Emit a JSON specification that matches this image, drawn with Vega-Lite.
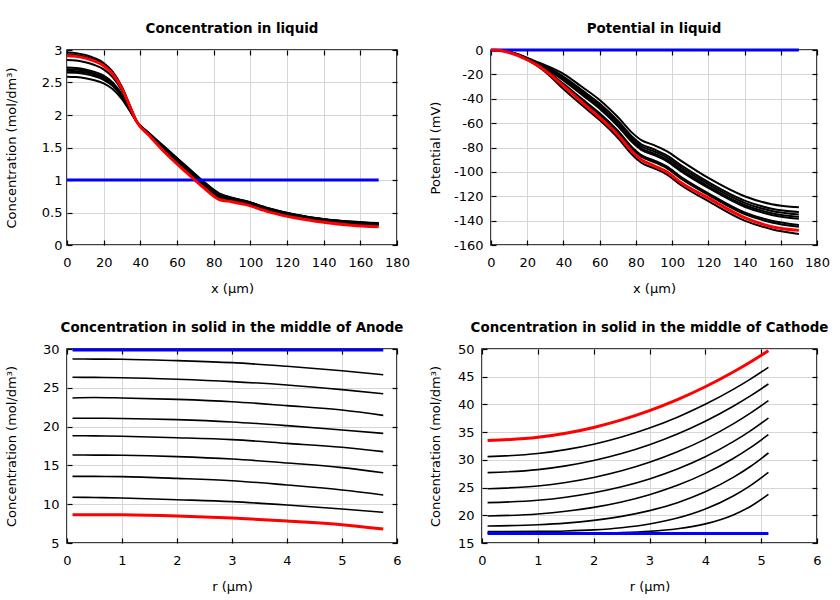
{
  "$schema": "https://vega.github.io/schema/vega-lite/v6.json",
  "padding": {"left": 4, "top": 20, "right": 4, "bottom": 0},
  "background": "#ffffff",
  "datasets": {
    "liquid": [
      {"x": 0, "b1": 2.96, "b2": 2.93, "b3": 2.845, "b4": 2.73, "b5": 2.705, "b6": 2.68, "b7": 2.655, "b8": 2.59, "blue": 1, "red": 2.91},
      {"x": 5, "b1": 2.952, "b2": 2.922, "b3": 2.837, "b4": 2.723, "b5": 2.699, "b6": 2.674, "b7": 2.649, "b8": 2.584, "blue": 1, "red": 2.902},
      {"x": 10, "b1": 2.923, "b2": 2.894, "b3": 2.812, "b4": 2.701, "b5": 2.677, "b6": 2.653, "b7": 2.629, "b8": 2.566, "blue": 1, "red": 2.875},
      {"x": 15, "b1": 2.875, "b2": 2.848, "b3": 2.769, "b4": 2.664, "b5": 2.641, "b6": 2.618, "b7": 2.595, "b8": 2.535, "blue": 1, "red": 2.829},
      {"x": 20, "b1": 2.801, "b2": 2.776, "b3": 2.703, "b4": 2.606, "b5": 2.584, "b6": 2.563, "b7": 2.542, "b8": 2.487, "blue": 1, "red": 2.758},
      {"x": 25, "b1": 2.663, "b2": 2.642, "b3": 2.58, "b4": 2.498, "b5": 2.48, "b6": 2.462, "b7": 2.444, "b8": 2.397, "blue": 1, "red": 2.627},
      {"x": 30, "b1": 2.43, "b2": 2.415, "b3": 2.373, "b4": 2.315, "b5": 2.303, "b6": 2.29, "b7": 2.278, "b8": 2.245, "blue": 1, "red": 2.405},
      {"x": 34, "b1": 2.165, "b2": 2.158, "b3": 2.136, "b4": 2.108, "b5": 2.101, "b6": 2.095, "b7": 2.089, "b8": 2.073, "blue": 1, "red": 2.153},
      {"x": 38, "b1": 1.9, "b2": 1.9, "b3": 1.9, "b4": 1.9, "b5": 1.9, "b6": 1.9, "b7": 1.9, "b8": 1.9, "blue": 1, "red": 1.9},
      {"x": 45, "b1": 1.685, "b2": 1.69, "b3": 1.695, "b4": 1.7, "b5": 1.705, "b6": 1.71, "b7": 1.712, "b8": 1.717, "blue": 1, "red": 1.68},
      {"x": 55, "b1": 1.4, "b2": 1.41, "b3": 1.42, "b4": 1.43, "b5": 1.44, "b6": 1.45, "b7": 1.455, "b8": 1.465, "blue": 1, "red": 1.38},
      {"x": 65, "b1": 1.15, "b2": 1.16, "b3": 1.17, "b4": 1.18, "b5": 1.19, "b6": 1.2, "b7": 1.205, "b8": 1.215, "blue": 1, "red": 1.12},
      {"x": 75, "b1": 0.9, "b2": 0.91, "b3": 0.92, "b4": 0.93, "b5": 0.94, "b6": 0.95, "b7": 0.955, "b8": 0.965, "blue": 1, "red": 0.87},
      {"x": 83, "b1": 0.73, "b2": 0.74, "b3": 0.75, "b4": 0.76, "b5": 0.77, "b6": 0.78, "b7": 0.785, "b8": 0.795, "blue": 1, "red": 0.7},
      {"x": 90, "b1": 0.695, "b2": 0.7, "b3": 0.705, "b4": 0.71, "b5": 0.715, "b6": 0.72, "b7": 0.722, "b8": 0.727, "blue": 1, "red": 0.665},
      {"x": 97, "b1": 0.65, "b2": 0.655, "b3": 0.66, "b4": 0.665, "b5": 0.67, "b6": 0.675, "b7": 0.677, "b8": 0.682, "blue": 1, "red": 0.625},
      {"x": 110, "b1": 0.535, "b2": 0.54, "b3": 0.545, "b4": 0.55, "b5": 0.555, "b6": 0.56, "b7": 0.562, "b8": 0.567, "blue": 1, "red": 0.51},
      {"x": 125, "b1": 0.435, "b2": 0.44, "b3": 0.445, "b4": 0.45, "b5": 0.455, "b6": 0.46, "b7": 0.462, "b8": 0.467, "blue": 1, "red": 0.415},
      {"x": 140, "b1": 0.37, "b2": 0.375, "b3": 0.38, "b4": 0.385, "b5": 0.39, "b6": 0.395, "b7": 0.397, "b8": 0.402, "blue": 1, "red": 0.35},
      {"x": 155, "b1": 0.33, "b2": 0.335, "b3": 0.34, "b4": 0.345, "b5": 0.35, "b6": 0.355, "b7": 0.357, "b8": 0.362, "blue": 1, "red": 0.305},
      {"x": 170, "b1": 0.305, "b2": 0.31, "b3": 0.315, "b4": 0.32, "b5": 0.325, "b6": 0.33, "b7": 0.332, "b8": 0.337, "blue": 1, "red": 0.28}
    ],
    "potential": [
      {"x": 0, "b1": 0, "b2": 0, "b3": 0, "b4": 0, "b5": 0, "b6": 0, "b7": 0, "b8": 0, "blue": 0, "red": 0},
      {"x": 5, "b1": -0.3, "b2": -0.32, "b3": -0.33, "b4": -0.34, "b5": -0.34, "b6": -0.37, "b7": -0.37, "b8": -0.4, "blue": 0, "red": -0.4},
      {"x": 10, "b1": -1.5, "b2": -1.59, "b3": -1.64, "b4": -1.68, "b5": -1.72, "b6": -1.83, "b7": -1.87, "b8": -2, "blue": 0, "red": -2},
      {"x": 15, "b1": -3.5, "b2": -3.68, "b3": -3.77, "b4": -3.86, "b5": -3.93, "b6": -4.16, "b7": -4.23, "b8": -4.5, "blue": 0, "red": -4.5},
      {"x": 20, "b1": -6.5, "b2": -6.77, "b3": -6.91, "b4": -7.04, "b5": -7.15, "b6": -7.49, "b7": -7.6, "b8": -8, "blue": 0, "red": -8},
      {"x": 25, "b1": -9.5, "b2": -10.04, "b3": -10.31, "b4": -10.58, "b5": -10.79, "b6": -11.48, "b7": -11.69, "b8": -12.5, "blue": 0, "red": -12},
      {"x": 30, "b1": -12.5, "b2": -13.49, "b3": -13.99, "b4": -14.48, "b5": -14.87, "b6": -16.13, "b7": -16.52, "b8": -18, "blue": 0, "red": -17},
      {"x": 40, "b1": -19.5, "b2": -21.75, "b3": -22.88, "b4": -24, "b5": -24.88, "b6": -27.75, "b7": -28.63, "b8": -32, "blue": 0, "red": -29.5},
      {"x": 50, "b1": -30, "b2": -32.7, "b3": -34.05, "b4": -35.4, "b5": -36.45, "b6": -39.9, "b7": -40.95, "b8": -45, "blue": 0, "red": -42.5},
      {"x": 60, "b1": -41, "b2": -43.97, "b3": -45.46, "b4": -46.94, "b5": -48.1, "b6": -51.89, "b7": -53.05, "b8": -57.5, "blue": 0, "red": -55.5},
      {"x": 70, "b1": -55, "b2": -58.06, "b3": -59.59, "b4": -61.12, "b5": -62.31, "b6": -66.22, "b7": -67.41, "b8": -72, "blue": 0, "red": -69.5},
      {"x": 78, "b1": -68, "b2": -71.24, "b3": -72.86, "b4": -74.48, "b5": -75.74, "b6": -79.88, "b7": -81.14, "b8": -86, "blue": 0, "red": -83.5},
      {"x": 83, "b1": -74, "b2": -77.33, "b3": -79, "b4": -80.66, "b5": -81.96, "b6": -86.21, "b7": -87.51, "b8": -92.5, "blue": 0, "red": -90},
      {"x": 90, "b1": -78, "b2": -81.42, "b3": -83.13, "b4": -84.84, "b5": -86.17, "b6": -90.54, "b7": -91.87, "b8": -97, "blue": 0, "red": -95},
      {"x": 97, "b1": -83, "b2": -86.42, "b3": -88.13, "b4": -89.84, "b5": -91.17, "b6": -95.54, "b7": -96.87, "b8": -102, "blue": 0, "red": -100},
      {"x": 105, "b1": -91, "b2": -94.6, "b3": -96.4, "b4": -98.2, "b5": -99.6, "b6": -104.2, "b7": -105.6, "b8": -111, "blue": 0, "red": -109},
      {"x": 120, "b1": -105, "b2": -108.42, "b3": -110.13, "b4": -111.84, "b5": -113.17, "b6": -117.54, "b7": -118.87, "b8": -124, "blue": 0, "red": -121.5},
      {"x": 140, "b1": -120, "b2": -123.6, "b3": -125.4, "b4": -127.2, "b5": -128.6, "b6": -133.2, "b7": -134.6, "b8": -140, "blue": 0, "red": -137.5},
      {"x": 155, "b1": -126.5, "b2": -130.19, "b3": -132.04, "b4": -133.88, "b5": -135.32, "b6": -140.03, "b7": -141.47, "b8": -147, "blue": 0, "red": -145},
      {"x": 170, "b1": -129, "b2": -132.96, "b3": -134.94, "b4": -136.92, "b5": -138.46, "b6": -143.52, "b7": -145.06, "b8": -151, "blue": 0, "red": -148}
    ],
    "anode": [
      {"x": 0.1, "b1": 28.71, "b2": 26.35, "b3": 23.69, "b4": 21.07, "b5": 18.83, "b6": 16.34, "b7": 13.59, "b8": 10.89, "blue": 29.87, "red": 8.65},
      {"x": 0.5, "b1": 28.7, "b2": 26.34, "b3": 23.75, "b4": 21.07, "b5": 18.8, "b6": 16.33, "b7": 13.58, "b8": 10.86, "blue": 29.87, "red": 8.65},
      {"x": 1, "b1": 28.68, "b2": 26.3, "b3": 23.69, "b4": 21.05, "b5": 18.75, "b6": 16.3, "b7": 13.55, "b8": 10.8, "blue": 29.87, "red": 8.63},
      {"x": 2, "b1": 28.5, "b2": 26.1, "b3": 23.51, "b4": 20.9, "b5": 18.57, "b6": 16.13, "b7": 13.33, "b8": 10.58, "blue": 29.87, "red": 8.48},
      {"x": 3, "b1": 28.24, "b2": 25.8, "b3": 23.21, "b4": 20.6, "b5": 18.32, "b6": 15.82, "b7": 13.03, "b8": 10.33, "blue": 29.87, "red": 8.22},
      {"x": 4, "b1": 27.77, "b2": 25.36, "b3": 22.7, "b4": 20.12, "b5": 17.84, "b6": 15.31, "b7": 12.47, "b8": 9.9, "blue": 29.87, "red": 7.83},
      {"x": 5, "b1": 27.2, "b2": 24.76, "b3": 22.14, "b4": 19.56, "b5": 17.33, "b6": 14.71, "b7": 11.83, "b8": 9.38, "blue": 29.87, "red": 7.36},
      {"x": 5.75, "b1": 26.69, "b2": 24.24, "b3": 21.45, "b4": 19.13, "b5": 16.77, "b6": 14.06, "b7": 11.19, "b8": 8.95, "blue": 29.87, "red": 6.8}
    ],
    "cathode": [
      {"x": 0.1, "b1": 30.59, "b2": 27.7, "b3": 24.8, "b4": 22.28, "b5": 19.87, "b6": 18.07, "b7": 17.05, "b8": 16.75, "blue": 16.7, "red": 33.47},
      {"x": 1, "b1": 31.14, "b2": 28.23, "b3": 25.29, "b4": 22.71, "b5": 20.24, "b6": 18.29, "b7": 17.09, "b8": 16.75, "blue": 16.7, "red": 34.06},
      {"x": 1.5, "b1": 31.84, "b2": 28.91, "b3": 25.93, "b4": 23.26, "b5": 20.72, "b6": 18.59, "b7": 17.17, "b8": 16.76, "blue": 16.7, "red": 34.8},
      {"x": 2, "b1": 32.83, "b2": 29.88, "b3": 26.83, "b4": 24.06, "b5": 21.43, "b6": 19.08, "b7": 17.37, "b8": 16.79, "blue": 16.7, "red": 35.85},
      {"x": 2.5, "b1": 34.13, "b2": 31.15, "b3": 28.03, "b4": 25.14, "b5": 22.41, "b6": 19.8, "b7": 17.76, "b8": 16.88, "blue": 16.7, "red": 37.21},
      {"x": 3, "b1": 35.75, "b2": 32.74, "b3": 29.56, "b4": 26.55, "b5": 23.72, "b6": 20.84, "b7": 18.43, "b8": 17.1, "blue": 16.7, "red": 38.88},
      {"x": 3.5, "b1": 37.7, "b2": 34.67, "b3": 31.45, "b4": 28.34, "b5": 25.41, "b6": 22.28, "b7": 19.51, "b8": 17.56, "blue": 16.7, "red": 40.87},
      {"x": 4, "b1": 40.02, "b2": 36.97, "b3": 33.74, "b4": 30.55, "b5": 27.56, "b6": 24.24, "b7": 21.14, "b8": 18.45, "blue": 16.7, "red": 43.19},
      {"x": 4.5, "b1": 42.71, "b2": 39.67, "b3": 36.49, "b4": 33.28, "b5": 30.24, "b6": 26.84, "b7": 23.49, "b8": 20.07, "blue": 16.7, "red": 45.85},
      {"x": 4.8, "b1": 44.52, "b2": 41.49, "b3": 38.38, "b4": 35.19, "b5": 32.16, "b6": 28.76, "b7": 25.32, "b8": 21.55, "blue": 16.7, "red": 47.61},
      {"x": 5.13, "b1": 46.69, "b2": 43.69, "b3": 40.68, "b4": 37.55, "b5": 34.55, "b6": 31.24, "b7": 27.75, "b8": 23.78, "blue": 16.7, "red": 49.7}
    ]
  },
  "columns": 2,
  "align": "none",
  "spacing": {"row": 23, "column": 17},
  "concat": [
    {
      "title": "Concentration in liquid",
      "width": 330,
      "height": 195,
      "data": {"name": "liquid"},
      "transform": [{"fold": ["b1", "b2", "b3", "b4", "b5", "b6", "b7", "b8", "blue", "red"], "as": ["s", "v"]}],
      "layer": [
        {
          "transform": [{"filter": {"field": "s", "oneOf": ["b1", "b2", "b3", "b4", "b5", "b6", "b7", "b8"]}}],
          "mark": {"type": "line", "interpolate": "monotone", "color": "#000000", "strokeWidth": 2},
          "encoding": {
            "x": {"field": "x", "type": "quantitative", "scale": {"domain": [0, 180], "nice": false, "zero": false}, "axis": {"title": "x (µm)", "values": [0, 20, 40, 60, 80, 100, 120, 140, 160, 180], "labelExpr": "'' + datum.value", "labelPadding": 16, "titlePadding": 13}},
            "y": {"field": "v", "type": "quantitative", "scale": {"domain": [0, 3], "nice": false, "zero": false}, "axis": {"title": "Concentration (mol/dm³)", "values": [0, 0.5, 1, 1.5, 2, 2.5, 3], "labelExpr": "'' + datum.value", "labelPadding": 10, "titlePadding": 23}},
            "detail": {"field": "s"}
          }
        },
        {
          "transform": [{"filter": {"field": "s", "equal": "blue"}}],
          "mark": {"type": "line", "interpolate": "monotone", "color": "#0000ff", "strokeWidth": 3},
          "encoding": {
            "x": {"field": "x", "type": "quantitative", "scale": {"domain": [0, 180], "nice": false, "zero": false}, "axis": null},
            "y": {"field": "v", "type": "quantitative", "scale": {"domain": [0, 3], "nice": false, "zero": false}, "axis": null}
          }
        },
        {
          "transform": [{"filter": {"field": "s", "equal": "red"}}],
          "mark": {"type": "line", "interpolate": "monotone", "color": "#ff0000", "strokeWidth": 3},
          "encoding": {
            "x": {"field": "x", "type": "quantitative", "scale": {"domain": [0, 180], "nice": false, "zero": false}, "axis": null},
            "y": {"field": "v", "type": "quantitative", "scale": {"domain": [0, 3], "nice": false, "zero": false}, "axis": null}
          }
        },
        {
          "mark": {"type": "line", "opacity": 0},
          "encoding": {
            "x": {"field": "x", "type": "quantitative", "scale": {"domain": [0, 180], "nice": false, "zero": false}, "axis": {"orient": "top", "labels": false, "title": null, "grid": false, "values": [0, 20, 40, 60, 80, 100, 120, 140, 160, 180]}},
            "y": {"field": "v", "type": "quantitative", "scale": {"domain": [0, 3], "nice": false, "zero": false}, "axis": {"orient": "right", "labels": false, "title": null, "grid": false, "values": [0, 0.5, 1, 1.5, 2, 2.5, 3]}},
            "detail": {"field": "s"}
          }
        }
      ],
      "resolve": {"axis": {"x": "independent", "y": "independent"}}
    },
    {
      "title": "Potential in liquid",
      "width": 326,
      "height": 195,
      "data": {"name": "potential"},
      "transform": [{"fold": ["b1", "b2", "b3", "b4", "b5", "b6", "b7", "b8", "blue", "red"], "as": ["s", "v"]}],
      "layer": [
        {
          "transform": [{"filter": {"field": "s", "oneOf": ["b1", "b2", "b3", "b4", "b5", "b6", "b7", "b8"]}}],
          "mark": {"type": "line", "interpolate": "monotone", "color": "#000000", "strokeWidth": 2},
          "encoding": {
            "x": {"field": "x", "type": "quantitative", "scale": {"domain": [0, 180], "nice": false, "zero": false}, "axis": {"title": "x (µm)", "values": [0, 20, 40, 60, 80, 100, 120, 140, 160, 180], "labelExpr": "'' + datum.value", "labelPadding": 16, "titlePadding": 13}},
            "y": {"field": "v", "type": "quantitative", "scale": {"domain": [-160, 0], "nice": false, "zero": false}, "axis": {"title": "Potential (mV)", "values": [0, -20, -40, -60, -80, -100, -120, -140, -160], "labelExpr": "'' + datum.value", "labelPadding": 13, "titlePadding": 11}},
            "detail": {"field": "s"}
          }
        },
        {
          "transform": [{"filter": {"field": "s", "equal": "blue"}}],
          "mark": {"type": "line", "interpolate": "monotone", "color": "#0000ff", "strokeWidth": 3},
          "encoding": {
            "x": {"field": "x", "type": "quantitative", "scale": {"domain": [0, 180], "nice": false, "zero": false}, "axis": null},
            "y": {"field": "v", "type": "quantitative", "scale": {"domain": [-160, 0], "nice": false, "zero": false}, "axis": null}
          }
        },
        {
          "transform": [{"filter": {"field": "s", "equal": "red"}}],
          "mark": {"type": "line", "interpolate": "monotone", "color": "#ff0000", "strokeWidth": 3},
          "encoding": {
            "x": {"field": "x", "type": "quantitative", "scale": {"domain": [0, 180], "nice": false, "zero": false}, "axis": null},
            "y": {"field": "v", "type": "quantitative", "scale": {"domain": [-160, 0], "nice": false, "zero": false}, "axis": null}
          }
        },
        {
          "mark": {"type": "line", "opacity": 0},
          "encoding": {
            "x": {"field": "x", "type": "quantitative", "scale": {"domain": [0, 180], "nice": false, "zero": false}, "axis": {"orient": "top", "labels": false, "title": null, "grid": false, "values": [0, 20, 40, 60, 80, 100, 120, 140, 160, 180]}},
            "y": {"field": "v", "type": "quantitative", "scale": {"domain": [-160, 0], "nice": false, "zero": false}, "axis": {"orient": "right", "labels": false, "title": null, "grid": false, "values": [0, -20, -40, -60, -80, -100, -120, -140, -160]}},
            "detail": {"field": "s"}
          }
        }
      ],
      "resolve": {"axis": {"x": "independent", "y": "independent"}}
    },
    {
      "title": "Concentration in solid in the middle of Anode",
      "width": 330,
      "height": 194,
      "data": {"name": "anode"},
      "transform": [{"fold": ["b1", "b2", "b3", "b4", "b5", "b6", "b7", "b8", "blue", "red"], "as": ["s", "v"]}],
      "layer": [
        {
          "transform": [{"filter": {"field": "s", "oneOf": ["b1", "b2", "b3", "b4", "b5", "b6", "b7", "b8"]}}],
          "mark": {"type": "line", "interpolate": "monotone", "color": "#000000", "strokeWidth": 1.6},
          "encoding": {
            "x": {"field": "x", "type": "quantitative", "scale": {"domain": [0, 6], "nice": false, "zero": false}, "axis": {"title": "r (µm)", "values": [0, 1, 2, 3, 4, 5, 6], "labelExpr": "'' + datum.value", "labelPadding": 16, "titlePadding": 13}},
            "y": {"field": "v", "type": "quantitative", "scale": {"domain": [5, 30], "nice": false, "zero": false}, "axis": {"title": "Concentration (mol/dm³)", "values": [5, 10, 15, 20, 25, 30], "labelExpr": "'' + datum.value", "labelPadding": 13, "titlePadding": 24}},
            "detail": {"field": "s"}
          }
        },
        {
          "transform": [{"filter": {"field": "s", "equal": "blue"}}],
          "mark": {"type": "line", "interpolate": "monotone", "color": "#0000ff", "strokeWidth": 3},
          "encoding": {
            "x": {"field": "x", "type": "quantitative", "scale": {"domain": [0, 6], "nice": false, "zero": false}, "axis": null},
            "y": {"field": "v", "type": "quantitative", "scale": {"domain": [5, 30], "nice": false, "zero": false}, "axis": null}
          }
        },
        {
          "transform": [{"filter": {"field": "s", "equal": "red"}}],
          "mark": {"type": "line", "interpolate": "monotone", "color": "#ff0000", "strokeWidth": 3},
          "encoding": {
            "x": {"field": "x", "type": "quantitative", "scale": {"domain": [0, 6], "nice": false, "zero": false}, "axis": null},
            "y": {"field": "v", "type": "quantitative", "scale": {"domain": [5, 30], "nice": false, "zero": false}, "axis": null}
          }
        },
        {
          "mark": {"type": "line", "opacity": 0},
          "encoding": {
            "x": {"field": "x", "type": "quantitative", "scale": {"domain": [0, 6], "nice": false, "zero": false}, "axis": {"orient": "top", "labels": false, "title": null, "grid": false, "values": [0, 1, 2, 3, 4, 5, 6]}},
            "y": {"field": "v", "type": "quantitative", "scale": {"domain": [5, 30], "nice": false, "zero": false}, "axis": {"orient": "right", "labels": false, "title": null, "grid": false, "values": [5, 10, 15, 20, 25, 30]}},
            "detail": {"field": "s"}
          }
        }
      ],
      "resolve": {"axis": {"x": "independent", "y": "independent"}}
    },
    {
      "title": "Concentration in solid in the middle of Cathode",
      "width": 335,
      "height": 194,
      "data": {"name": "cathode"},
      "transform": [{"fold": ["b1", "b2", "b3", "b4", "b5", "b6", "b7", "b8", "blue", "red"], "as": ["s", "v"]}],
      "layer": [
        {
          "transform": [{"filter": {"field": "s", "oneOf": ["b1", "b2", "b3", "b4", "b5", "b6", "b7", "b8"]}}],
          "mark": {"type": "line", "interpolate": "monotone", "color": "#000000", "strokeWidth": 1.6},
          "encoding": {
            "x": {"field": "x", "type": "quantitative", "scale": {"domain": [0, 6], "nice": false, "zero": false}, "axis": {"title": "r (µm)", "values": [0, 1, 2, 3, 4, 5, 6], "labelExpr": "'' + datum.value", "labelPadding": 16, "titlePadding": 13}},
            "y": {"field": "v", "type": "quantitative", "scale": {"domain": [15, 50], "nice": false, "zero": false}, "axis": {"title": "Concentration (mol/dm³)", "values": [15, 20, 25, 30, 35, 40, 45, 50], "labelExpr": "'' + datum.value", "labelPadding": 13, "titlePadding": 15}},
            "detail": {"field": "s"}
          }
        },
        {
          "transform": [{"filter": {"field": "s", "equal": "blue"}}],
          "mark": {"type": "line", "interpolate": "monotone", "color": "#0000ff", "strokeWidth": 3},
          "encoding": {
            "x": {"field": "x", "type": "quantitative", "scale": {"domain": [0, 6], "nice": false, "zero": false}, "axis": null},
            "y": {"field": "v", "type": "quantitative", "scale": {"domain": [15, 50], "nice": false, "zero": false}, "axis": null}
          }
        },
        {
          "transform": [{"filter": {"field": "s", "equal": "red"}}],
          "mark": {"type": "line", "interpolate": "monotone", "color": "#ff0000", "strokeWidth": 3},
          "encoding": {
            "x": {"field": "x", "type": "quantitative", "scale": {"domain": [0, 6], "nice": false, "zero": false}, "axis": null},
            "y": {"field": "v", "type": "quantitative", "scale": {"domain": [15, 50], "nice": false, "zero": false}, "axis": null}
          }
        },
        {
          "mark": {"type": "line", "opacity": 0},
          "encoding": {
            "x": {"field": "x", "type": "quantitative", "scale": {"domain": [0, 6], "nice": false, "zero": false}, "axis": {"orient": "top", "labels": false, "title": null, "grid": false, "values": [0, 1, 2, 3, 4, 5, 6]}},
            "y": {"field": "v", "type": "quantitative", "scale": {"domain": [15, 50], "nice": false, "zero": false}, "axis": {"orient": "right", "labels": false, "title": null, "grid": false, "values": [15, 20, 25, 30, 35, 40, 45, 50]}},
            "detail": {"field": "s"}
          }
        }
      ],
      "resolve": {"axis": {"x": "independent", "y": "independent"}}
    }
  ],
  "config": {
    "font": "DejaVu Sans",
    "view": {"stroke": "#000000", "strokeWidth": 1.5},
    "axis": {
      "domain": false,
      "gridColor": "#d6d6d6",
      "gridWidth": 1,
      "tickColor": "#000000",
      "tickSize": -5,
      "tickWidth": 1.2,
      "labelFontSize": 13,
      "labelColor": "#000000",
      "labelFlush": false,
      "labelOverlap": false,
      "titleFontSize": 13,
      "titleFontWeight": "normal",
      "titleColor": "#000000"
    },
    "title": {"fontSize": 13.4, "fontWeight": "bold", "color": "#000000", "offset": 9}
  }
}
